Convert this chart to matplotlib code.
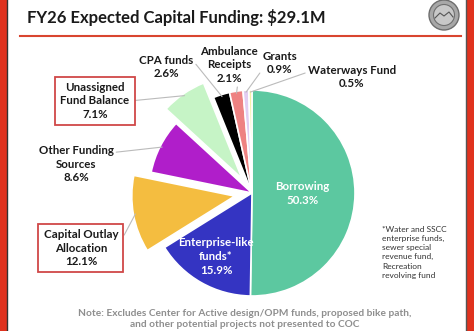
import matplotlib

matplotlib.use("Agg")
import matplotlib.pyplot as plt
import numpy as np
from matplotlib.patches import Circle, Rectangle

plt.rcParams["font.family"] = ["Lato", "DejaVu Sans"]

# chart data
sources = ["Borrowing", "Enterprise-like\nfunds*", "Capital Outlay\nAllocation",
           "Other Funding\nSources", "Unassigned\nFund Balance", "CPA funds",
           "Ambulance\nReceipts", "Grants", "Waterways Fund"]
shares = [50.3, 15.9, 12.1, 8.6, 7.1, 2.6, 2.1, 0.9, 0.5]
colors = ["#5CC8A0", "#3434C2", "#F4BD40", "#B01ECA", "#C6F4C6",
          "#000000", "#EE8282", "#E2CDF2", "#F6EFA6"]
explode = [0, 0, 0.17, 0, 0.17, 0, 0, 0, 0]  # fraction of radius

W, H = 474, 331
INK, RED, GREY = "#1a1a1a", "#E0321E", "#8E8E8E"
CX, CY, R = 252, 193, 103  # pie centre / radius in pixel coords (y down)


def Y(y):
    return H - y


fig = plt.figure(figsize=(W / 100, H / 100), dpi=100)
ax = fig.add_axes([0, 0, 1, 1])

wedges, _ = ax.pie(shares, colors=colors, explode=[e * R for e in explode], startangle=90,
                   counterclock=False, radius=R, center=(CX, Y(CY)),
                   wedgeprops=dict(edgecolor="white", linewidth=1.2))
ax.set_xlim(0, W)
ax.set_ylim(0, H)
ax.set_aspect("auto")
ax.axis("off")


def on_wedge(w, frac):
    a = np.deg2rad((w.theta1 + w.theta2) / 2)
    cx, cy = w.center
    return cx + w.r * frac * np.cos(a), cy + w.r * frac * np.sin(a)


# labels inside the two big slices
for i, frac in [(0, 0.49), (1, 0.71)]:
    x, y = on_wedge(wedges[i], frac)
    ax.text(x, y, f"{sources[i]}\n{shares[i]}%", ha="center", va="center",
            color="white", fontsize=8.3, fontweight="bold", linespacing=1.3)

# outside labels: (slice index, label centre in px, relpos of leader start, boxed)
outside = [
    (2, (81, 248), (1.0, 0.55), True),
    (3, (76, 164), (1.0, 0.8), False),
    (4, (95, 101), (1.0, 0.5), True),
    (5, (166, 67), (1.0, 0.75), False),
    (6, (229, 65), (0.65, 0.0), False),
    (7, (280, 63), (0.0, 0.25), False),
    (8, (352, 77), (0.0, 0.7), False),
]
for i, (lx, ly), rel, boxed in outside:
    bbox = dict(boxstyle="square,pad=0.45", fc="white", ec="#D04848", lw=1.3) if boxed else None
    ax.annotate(f"{sources[i]}\n{shares[i]}%", xy=on_wedge(wedges[i], 0.98),
                xytext=(lx, Y(ly)), ha="center", va="center", fontsize=8.3,
                fontweight="bold", color=INK, linespacing=1.3, bbox=bbox,
                arrowprops=dict(arrowstyle="-", color="#BBBBBB", lw=0.8,
                                relpos=rel, shrinkA=0, shrinkB=0))

# slide frame, title and rule
ax.add_patch(Rectangle((0, 0), 7, H, color=RED, lw=0))
ax.add_patch(Rectangle((467, 0), 7, H, color=RED, lw=0))
ax.plot([7.5, 7.5], [0, H], color="#333333", lw=1)
ax.plot([466.5, 466.5], [0, H], color="#555555", lw=1)
ax.text(27, Y(18), "FY26 Expected Capital Funding: $29.1M", ha="left", va="center",
        fontsize=12, fontweight="bold", color=INK)
ax.plot([20, 461], [Y(36), Y(36)], color="#D9452F", lw=1.5)

# town seal (simplified)
ax.add_patch(Circle((444, Y(15)), 15, fc="#A8A8A8", ec="#6E6E6E", lw=1))
ax.add_patch(Circle((444, Y(15)), 10.5, fc="#C8C8C8", ec="#707070", lw=0.8))
ax.plot([435, 440, 444, 449, 453], [Y(18), Y(13), Y(16), Y(12), Y(17)], color="#555555", lw=0.8)

ax.text(382, Y(226), "*Water and SSCC\nenterprise funds,\nsewer special\nrevenue fund,\n"
        "Recreation\nrevolving fund", ha="left", va="top", fontsize=6,
        color="#333333", linespacing=1.35)
ax.text(245, Y(319), "Note: Excludes Center for Active design/OPM funds, proposed bike path,\n"
        "and other potential projects not presented to COC", ha="center", va="center",
        fontsize=7.3, fontweight="bold", color=GREY, linespacing=1.3)

fig.savefig("out.png", dpi=100)
